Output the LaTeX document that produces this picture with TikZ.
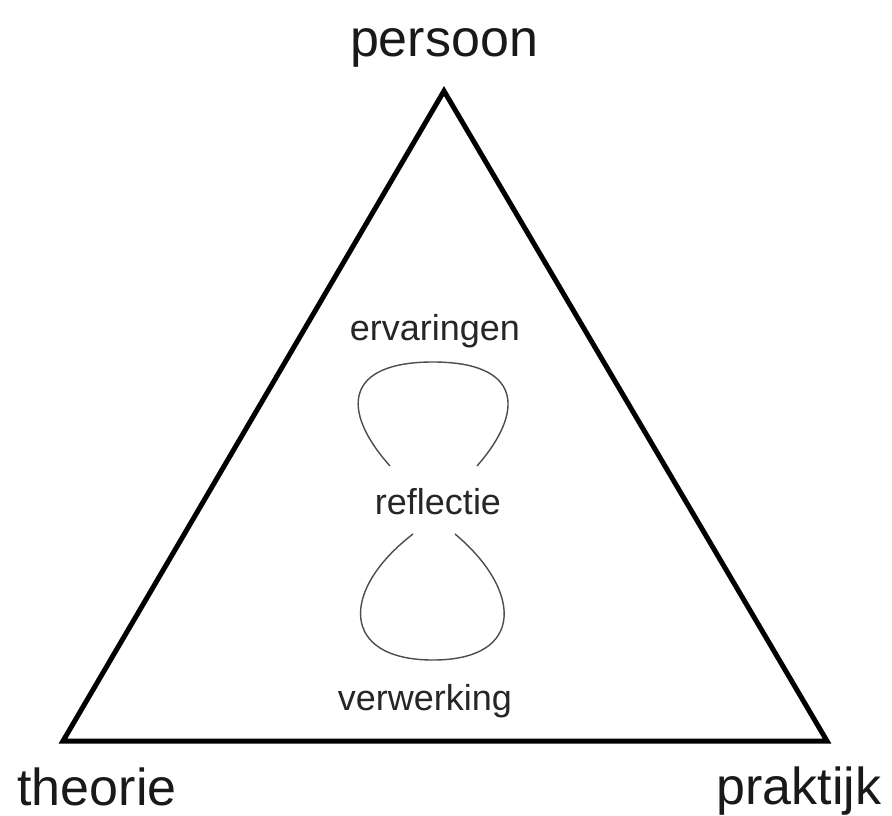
\documentclass[tikz,border=0pt]{standalone}
\usepackage{fontspec}
\setmainfont{Liberation Sans}
\begin{document}
\begin{tikzpicture}[x=1pt,y=-1pt,
  big/.style={font=\fontsize{52}{60}\selectfont, text=black!90, inner sep=0pt, anchor=base},
  small/.style={font=\fontsize{36}{42}\selectfont, text=black!85, inner sep=0pt, anchor=base},
  loop/.style={line width=1.4pt, draw=black!70}]
\useasboundingbox (0,0) rectangle (892,816);
\coordinate (P) at (444,91);
\coordinate (T) at (63,741);
\coordinate (K) at (827,741);
\draw[line width=5pt, line join=miter] (P) -- (T) -- (K) -- cycle;
\node[big] (persoon) at (444,57) {persoon};
\node[big] (theorie) at (97,805) {theorie};
\node[big] (praktijk) at (799,804) {praktijk};
\node[small] (erv) at (435,340) {ervaringen};
\node[small] (refl) at (438,514) {reflectie};
\node[small] (verw) at (425,710) {verwerking};
\coordinate (a1) at (390,466);
\coordinate (a2) at (477,466);
\coordinate (b1) at (413,534);
\coordinate (b2) at (455,534);
\draw[loop] (a1) .. controls (340,410) and (345,362) .. (433,362) .. controls (521,362) and (526,410) .. (a2);
\draw[loop] (b1) .. controls (340,590) and (340,660) .. (433,660) .. controls (526,660) and (522,590) .. (b2);
\end{tikzpicture}
\end{document}
